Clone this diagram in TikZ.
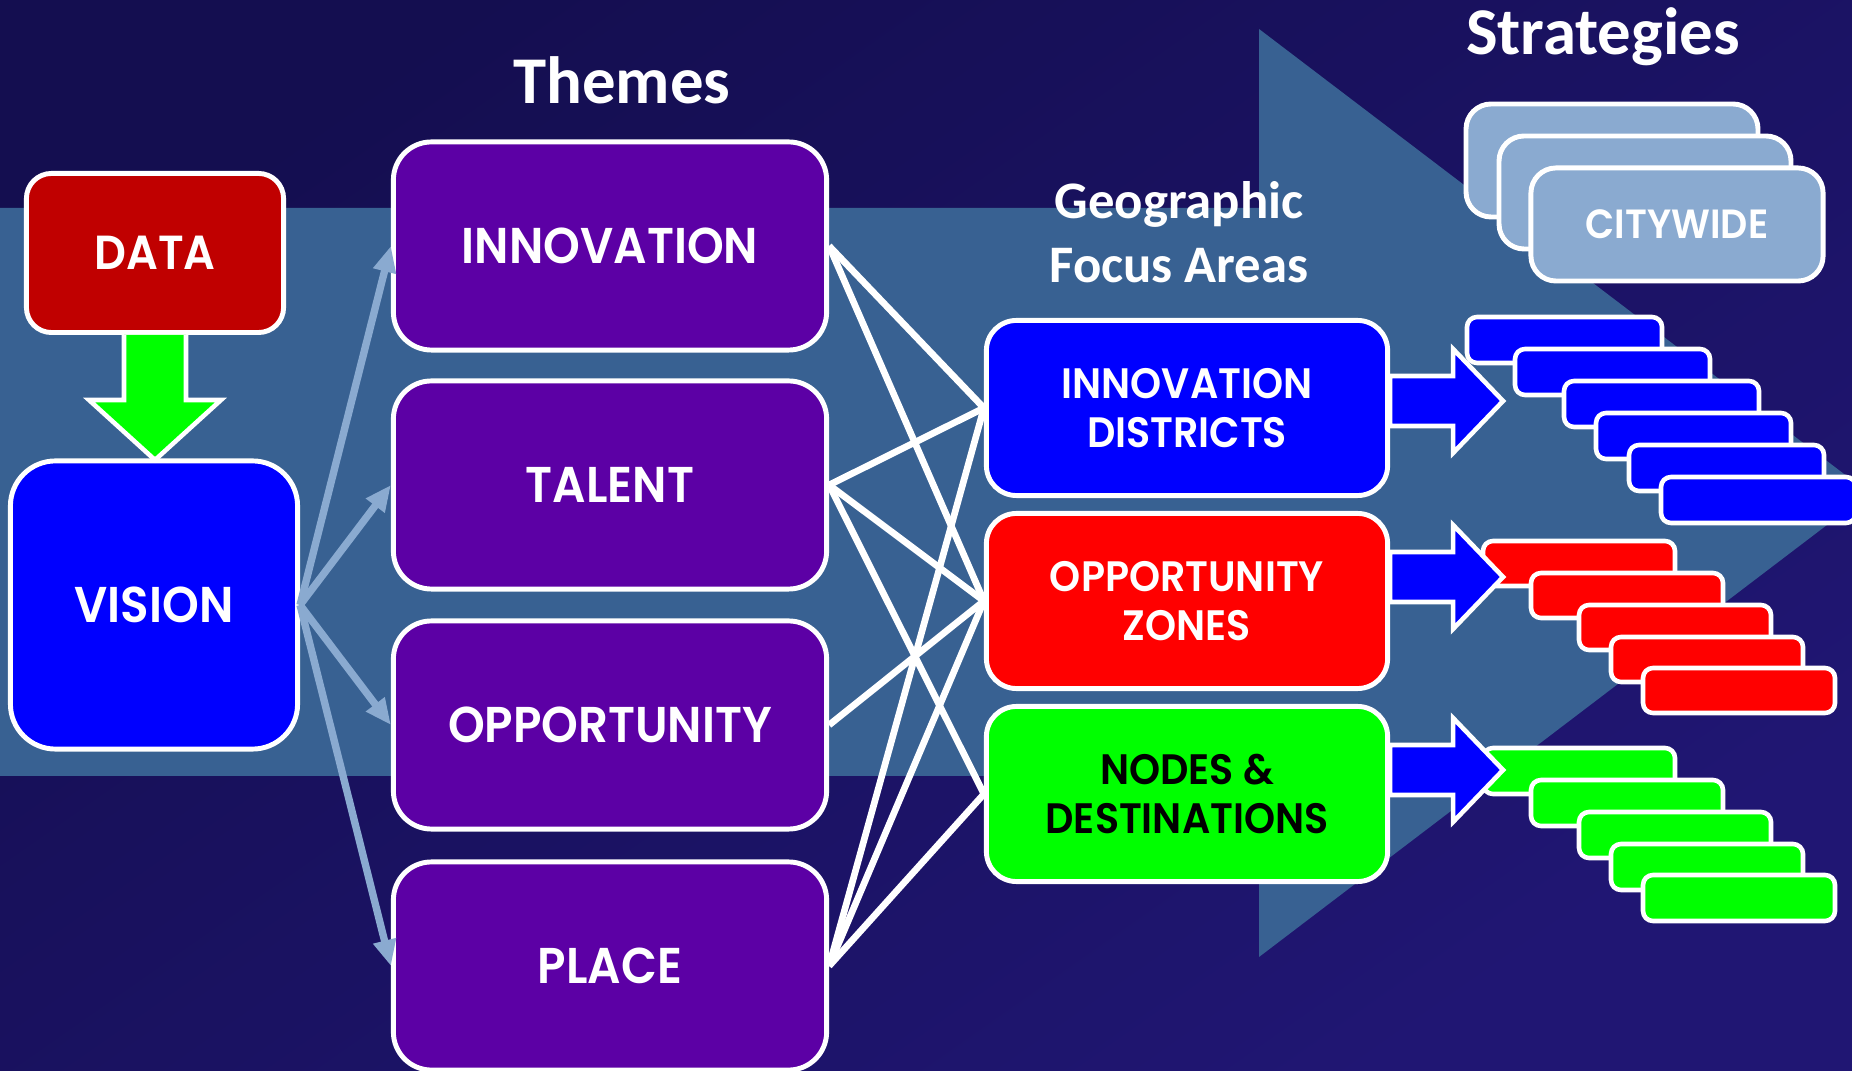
\documentclass[tikz,border=0pt]{standalone}
\usepackage{fontspec}
\setmainfont{Carlito}
\newfontfamily\gothic{Poppins}[FakeStretch=0.93, BoldFont={Poppins SemiBold}]
\usetikzlibrary{arrows.meta,calc}

\definecolor{bgtop}{RGB}{20,14,80}
\definecolor{bgbot}{RGB}{32,22,115}
\definecolor{steel}{RGB}{56,97,146}
\definecolor{pale}{RGB}{138,170,208}
\definecolor{datared}{RGB}{192,0,0}
\definecolor{themepurple}{RGB}{92,0,165}

\tikzset{
    box/.style={draw=white, line width=1.4pt, text=white, align=center},
    theme/.style={box, fill=themepurple, minimum width=4.33cm, minimum height=2.08cm,
        rounded corners=0.38cm, font=\gothic\bfseries\fontsize{14.3}{16}\selectfont},
    focus/.style={box, minimum width=4.01cm, minimum height=1.75cm,
        rounded corners=0.3cm, font=\gothic\bfseries\fontsize{12.1}{14}\selectfont},
    title/.style={text=white, font=\bfseries\fontsize{19}{22}\selectfont},
    feed/.style={pale, line width=2.1pt, -{Triangle[length=0.26cm,width=0.22cm]}},
    link/.style={white, line width=1.9pt},
    strat/.style={draw=white, line width=1.3pt, rounded corners=0.1cm},
    citybox/.style={draw=white, line width=1.4pt, fill=pale, rounded corners=0.25cm},
    blockarrow/.style={draw=white, line width=1.3pt, fill=blue},
}

\begin{document}
\begin{tikzpicture}[x=0.01cm, y=-0.01cm]
    \useasboundingbox (0,0) rectangle (1852,1071);
    \clip (0,0) rectangle (1852,1071);
    \shade[shading=axis, top color=bgtop, bottom color=bgbot, shading angle=35] (0,0) rectangle (1852,1071);
    % big arrow behind everything
    \fill[steel] (0,208) -- (1259,208) -- (1259,29) -- (1869,493) -- (1259,957) -- (1259,776) -- (0,776) -- cycle;
    % \draw[help lines] (0,0) grid[step=100] (1852,1071);

    \node[title] (themes) at (622,80) {Themes};
    \node[title] (strategies) at (1603,37) {Strategies};
    \node[title, align=center, font=\bfseries\fontsize{15}{18.2}\selectfont] (geo) at (1179,232) {Geographic\\Focus Areas};

    \node[box, fill=datared, minimum width=2.57cm, minimum height=1.59cm, rounded corners=0.25cm,
        font=\gothic\bfseries\fontsize{13.6}{15}\selectfont] (data) at (155,253) {DATA};
    \node[box, fill=blue, minimum width=2.87cm, minimum height=2.88cm, rounded corners=0.45cm,
        font=\gothic\bfseries\fontsize{14.3}{16}\selectfont] (vision) at (154,605) {VISION};
    \draw[white, line width=1.3pt, fill=green] ($(data.south)+(-31,0)$) -- ++(0,65) -- ++(-35,0) -- ++(66,60)
        -- ++(66,-60) -- ++(-35,0) -- ++(0,-65);

    \node[theme] (innovation) at (610,246) {INNOVATION};
    \node[theme] (talent) at (610,485) {TALENT};
    \node[theme] (opportunity) at (610,725) {OPPORTUNITY};
    \node[theme] (place) at (610,966) {PLACE};

    \node[focus, fill=blue] (indist) at (1187,408) {INNOVATION\\DISTRICTS};
    \node[focus, fill=red] (oppzones) at (1187,601) {OPPORTUNITY\\ZONES};
    \node[focus, fill=green, text=black] (nodesdest) at (1187,794) {NODES \&\\DESTINATIONS};

    \foreach \t in {innovation,talent,opportunity,place}{
        \draw[feed] (vision.east) -- (\t.west);
    }
    \foreach \a/\b in {innovation/indist,innovation/oppzones,talent/indist,talent/oppzones,talent/nodesdest,
        opportunity/oppzones,place/indist,place/oppzones,place/nodesdest}{
        \draw[link] (\a.east) -- (\b.west);
    }

    % strategy stacks
    \foreach \k in {0,1}{
        \draw[citybox] (1466+33*\k,104+32*\k) rectangle ++(292,113);
    }
    \node[citybox, minimum width=2.92cm, minimum height=1.13cm, text=white,
        font=\gothic\bfseries\fontsize{11.6}{13}\selectfont] (citywide) at (1677,224.5) {CITYWIDE};
    \foreach \dx/\dy in {0/0,48/32,97/64,129/96,162/128,194/160}{
        \draw[strat, fill=blue] (1467+\dx,317+\dy) rectangle ++(195,46);
    }
    \foreach \dx/\dy in {0/0,48/32,96/64,128/96,160/127}{
        \draw[strat, fill=red] (1483+\dx,541+\dy) rectangle ++(192,45);
        \draw[strat, fill=green] (1483+\dx,748+\dy) rectangle ++(192,46);
    }
    \foreach \n/\dy in {indist/-7,oppzones/-24,nodesdest/-24}{
        \draw[blockarrow] ($(\n.east)+(0,\dy-25)$) -- ++(63,0) -- ++(0,-27) -- ++(50,52)
            -- ++(-50,52) -- ++(0,-27) -- ++(-63,0) -- cycle;
    }
\end{tikzpicture}
\end{document}
